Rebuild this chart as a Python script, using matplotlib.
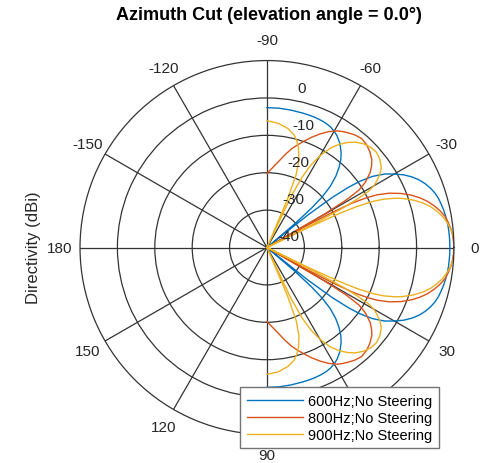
import numpy as np
import matplotlib
matplotlib.use('Agg')
from matplotlib import pyplot as plt
from matplotlib import transforms as mtrans

plt.rcParams['font.family'] = ['Liberation Sans', 'DejaVu Sans']

# azimuth (deg, 0..90) and directivity (dBi), upper half.
# no steering -> pattern is symmetric, lower half is the mirror
ang_600 = [0, 2, 4, 6, 8, 10, 12, 14, 16, 18, 20, 22, 24, 26, 28, 30, 32, 34, 35.5, 36.5, 37.5, 38.5, 39.5,
           40.5, 41.5, 42.5, 44, 46, 48, 50, 52, 55, 58, 60, 62, 64, 66, 68, 70, 72.5, 75, 80, 85, 90]
dir_600 = [8.9, 8.9, 8.85, 8.8, 8.7, 8.5, 8.3, 8.0, 7.7, 7.2, 6.5, 5.6, 4.5, 3.1, 1.4, -0.7, -2.9, -6.0, -9.5, -13, -18, -26, -40,
           -30, -24, -20, -16.5, -13.5, -11.2, -9.3, -7.8, -6.0, -4.7, -4.1, -3.6, -3.3, -3.1, -3.0, -2.9, -2.85, -2.8, -2.7, -2.6, -2.6]

ang_800 = [0, 2, 4, 6, 8, 10, 12, 14, 16, 18, 20, 22, 24, 25.5, 26.5, 27.5, 28.3, 29, 29.5,
           30.2, 31, 32, 33.5, 36, 38, 40, 43, 46, 49, 52, 55, 57, 59, 62, 65, 68, 71, 73.5, 76, 79, 82, 86, 90]
dir_800 = [10.0, 9.9, 9.7, 9.4, 8.9, 8.3, 7.3, 6.1, 4.7, 3.0, 1.0, -1.4, -4.3, -7.2, -10, -14, -20, -30, -40,
           -22, -15, -11, -8.5, -5.9, -4.5, -3.4, -2.4, -1.7, -1.4, -1.8, -2.5, -3.0, -3.6, -4.9, -6.5, -8.2, -10, -11.4, -12.8, -14.7, -16.6, -18.6, -20.2]

ang_900 = [0, 2, 4, 6, 8, 10, 12, 14, 16, 18, 20, 21, 22.5, 23.5, 24.5, 25.2, 25.8, 26.3,
           26.8, 27.5, 28.2, 29, 30, 31.3, 33, 35, 38, 41, 44, 47, 50, 52.5, 55, 57.5, 60, 62, 63.5, 64.8, 65.8,
           67, 68.2, 70, 72.5, 74.5, 76.5, 80, 85, 90]
dir_900 = [10.2, 10.1, 9.8, 9.3, 8.6, 7.7, 6.5, 5.1, 3.3, 1.1, -1.6, -3.2, -6.2, -9, -13.5, -19, -28, -40,
           -26, -17, -12.5, -9, -7, -5.6, -4.0, -2.7, -1.7, -1.2, -1.4, -2.1, -3.2, -4.6, -6.3, -8.5, -11.7, -15, -19, -25, -40,
           -26, -19, -15, -12, -10.3, -9, -7.7, -6.6, -6.1]

labels = ['600Hz;No Steering', '800Hz;No Steering', '900Hz;No Steering']
colors = ['#0072BD', '#D95319', '#EDB120']
r_ticks = [0, -10, -20, -30, -40]
# theta tick labels; 60 sits under the legend and does not show
theta_ticks = [0, 30, 90, 120, 150, 180, -150, -120, -90, -60, -30]

def full(a, d):
    a = np.array(a)
    d = np.array(d)
    th = np.concatenate([-a[::-1], a[1:]])
    dd = np.concatenate([d[::-1], d[1:]])
    return np.deg2rad(th), np.clip(dd, -40, None)

fig = plt.figure(figsize=(4.85, 4.64), dpi=100)
ax = fig.add_axes([0.165, 0.0614, 0.771, 0.806], projection='polar')
ax.set_theta_zero_location('E')
ax.set_theta_direction(-1)
ax.set_rlim(-40, 10)
ax.set_rticks([-30, -20, -10, 0])
ax.set_yticklabels([])
ax.set_xticks(np.deg2rad(np.arange(0, 360, 30)))
ax.set_xticklabels([])
ax.grid(True, color='0.2', lw=0.9)
ax.spines['polar'].set_color('0.2')
ax.spines['polar'].set_linewidth(0.9)

for a, d, lab, c in zip([ang_600, ang_800, ang_900], [dir_600, dir_800, dir_900], labels, colors):
    th, rr = full(a, d)
    ax.plot(th, rr, color=c, lw=1.0, label=lab)

# angle labels round the outside
for a in theta_ticks:
    ax.text(np.deg2rad(a), 15.5, str(a), ha='center', va='center', fontsize=11,
            color='#262626', clip_on=False, zorder=2)

# radial labels, bottom-left on the ring near -82 deg
off = mtrans.offset_copy(ax.transData, fig=fig, x=10, y=7.6, units='dots')
for r in r_ticks:
    ax.text(np.deg2rad(-82), r, str(r), transform=off, ha='left', va='baseline',
            fontsize=11, color='#262626', zorder=4)

fig.text(268.5/485, 1 - 15/464, 'Azimuth Cut (elevation angle = 0.0°)', ha='center', va='center',
         fontsize=13, fontweight='bold')
fig.text(33.5/485, 1 - 247.5/464, 'Directivity (dBi)', rotation=90, ha='center', va='center',
         fontsize=12, color='#262626')

leg = ax.legend(loc='lower right', bbox_to_anchor=(439.3/485, 14.7/464), bbox_transform=fig.transFigure,
                fontsize=10.5, handlelength=3.9, handletextpad=0.35, borderpad=0.45, labelspacing=0.2,
                fancybox=False, edgecolor='0.45', framealpha=1, borderaxespad=0)
leg.get_frame().set_linewidth(1.0)
leg.set_zorder(10)

fig.savefig('out.png', dpi=100, facecolor='white')
